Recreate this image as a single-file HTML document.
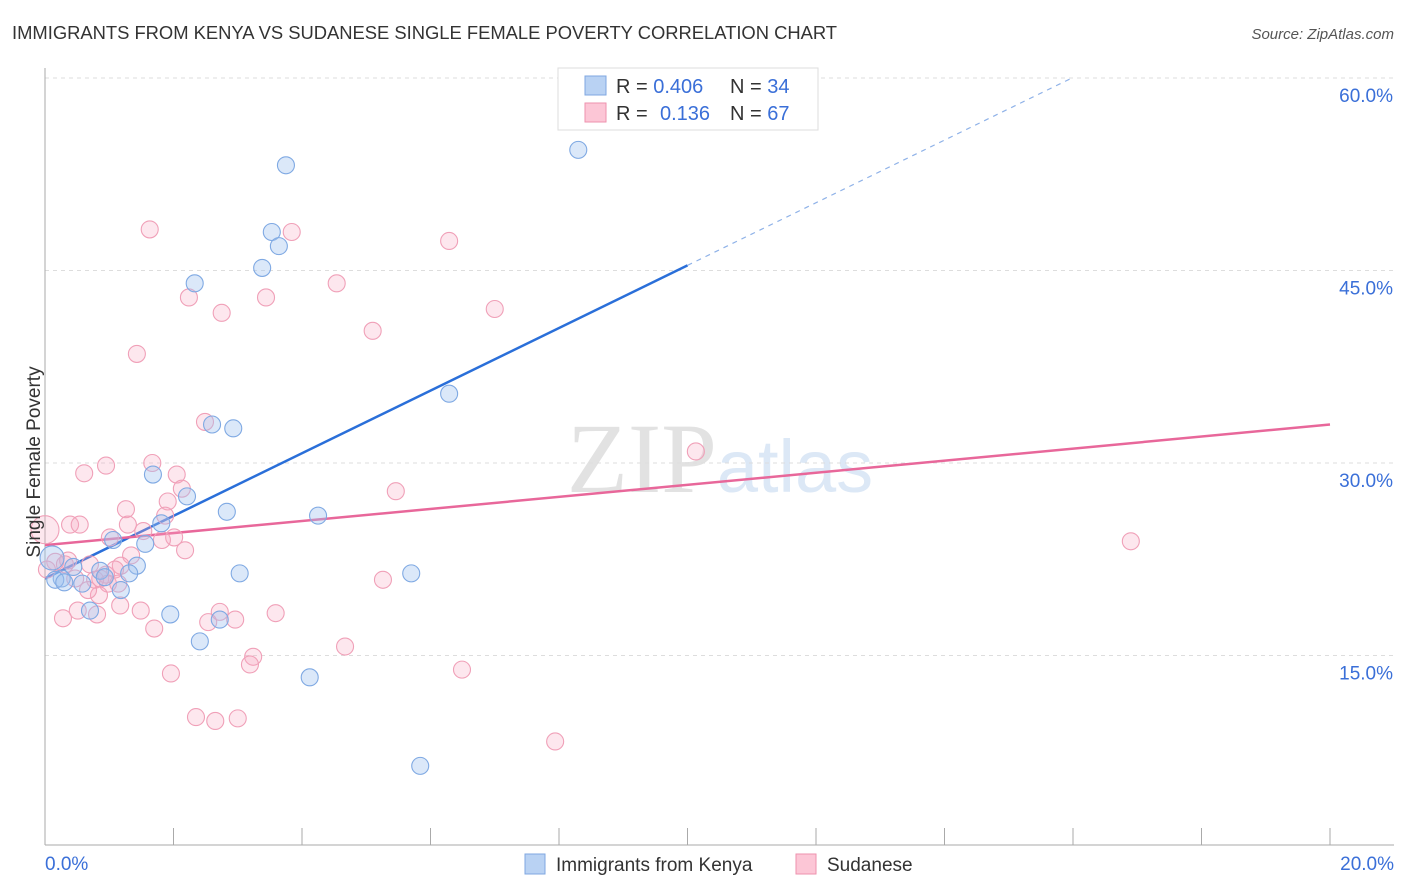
<!DOCTYPE html>
<html><head><meta charset="utf-8"><style>
body{margin:0;background:#fff;font-family:"Liberation Sans",sans-serif;}
svg{display:block}
</style></head><body>
<svg id="chart" width="1406" height="892" font-family="Liberation Sans, sans-serif">
<text x="12" y="39" font-size="18.4" fill="#333" textLength="825">IMMIGRANTS FROM KENYA VS SUDANESE SINGLE FEMALE POVERTY CORRELATION CHART</text>
<text x="1394" y="39" font-size="15" fill="#555" font-style="italic" text-anchor="end">Source: ZipAtlas.com</text>
<text x="720" y="492" font-size="100" fill="#e8e8e8" text-anchor="middle" font-family="Liberation Serif, serif"><tspan fill="#e2e2e2">ZIP</tspan><tspan fill="#dce8f6" font-family="Liberation Sans, sans-serif" font-size="74">atlas</tspan></text>
<g id="grid"></g>
<g id="axes"></g>
<g id="lines"></g>
<g id="pts"></g>
<text x="28" y="462" font-size="19" fill="#333" text-anchor="middle" transform="rotate(-90 34 456)">Single Female Poverty</text>
<g>
<rect x="558" y="68" width="260" height="62" fill="#fff" stroke="#ddd"/>
<rect x="585" y="76" width="21" height="19" fill="#b9d2f3" stroke="#7fa7e0"/>
<rect x="585" y="103" width="21" height="19" fill="#fcc6d6" stroke="#ee92ae"/>
<text x="616" y="93" font-size="20" fill="#333">R = <tspan fill="#3a6fd8">0.406</tspan><tspan x="730">N = </tspan><tspan fill="#3a6fd8">34</tspan></text>
<text x="616" y="120" font-size="20" fill="#333">R = <tspan x="660" fill="#3a6fd8">0.136</tspan><tspan x="730">N = </tspan><tspan fill="#3a6fd8">67</tspan></text>
</g>
<g>
<rect x="525" y="854" width="20" height="20" fill="#b9d2f3" stroke="#7fa7e0"/>
<text x="556" y="871" font-size="19" fill="#333">Immigrants from Kenya</text>
<rect x="796" y="854" width="20" height="20" fill="#fcc6d6" stroke="#ee92ae"/>
<text x="827" y="871" font-size="19" fill="#333">Sudanese</text>
</g>
</svg>
<script>
const yTicks=[15,30,45,60];
const yTickLabels=["15.0%","30.0%","45.0%","60.0%"];
const xTickLabels=["0.0%","20.0%"];
const kenyaX=[8.30,3.75,3.53,3.64,3.38,2.33,6.29,2.60,2.93,1.68,2.21,2.83,4.25,1.81,1.06,1.56,0.11,1.43,0.44,0.86,1.31,0.93,3.03,5.70,0.26,0.16,0.30,0.58,1.18,0.70,1.95,2.72,2.41,4.12,5.84];
const kenyaY=[54.4,53.2,48.0,46.9,45.2,44.0,35.4,33.0,32.7,29.1,27.4,26.2,25.9,25.3,24.0,23.7,22.6,22.0,21.9,21.6,21.4,21.1,21.4,21.4,21.0,20.9,20.7,20.6,20.1,18.5,18.2,17.8,16.1,13.3,6.4];
const sudanX=[1.63,3.84,6.29,4.54,2.24,3.44,2.75,7.00,5.10,1.43,2.49,1.67,0.95,0.61,2.05,2.13,10.13,5.46,1.91,1.26,0.39,0.54,1.29,1.87,1.53,2.01,1.82,16.90,0,1.01,2.18,0.16,0.36,0.70,1.34,1.18,1.09,0.86,0.78,0.95,0.98,0.84,1.17,1.49,0.51,0.81,0.28,2.72,3.59,1.70,2.54,2.96,4.67,3.24,3.19,1.96,6.49,5.26,2.35,2.65,3.00,7.94,0.31,0.03,0.47,1.14,0.67];
const sudanY=[48.2,48.0,47.3,44.0,42.9,42.9,41.7,42.0,40.3,38.5,33.2,30.0,29.8,29.2,29.1,28.0,30.9,27.8,27.0,26.4,25.2,25.2,25.2,25.9,24.7,24.2,24.0,23.9,24.8,24.2,23.2,22.3,22.4,22.1,22.8,22.0,21.7,21.0,20.9,21.3,20.6,19.7,18.9,18.5,18.5,18.2,17.9,18.4,18.3,17.1,17.6,17.8,15.7,14.9,14.3,13.6,13.9,20.9,10.2,9.9,10.1,8.3,22.1,21.7,21.0,20.6,20.1];
const kenyaLine=[0,21.0,10.0,45.4];
const sudanLine=[0,23.6,20,33.0];
const X=v=>45+v/20*1285;
const Y=v=>848-v/60*770;
const NS="http://www.w3.org/2000/svg";
function mk(tag,attrs,parent){const e=document.createElementNS(NS,tag);for(const k in attrs)e.setAttribute(k,attrs[k]);document.getElementById(parent).appendChild(e);return e;}
yTicks.forEach((t,i)=>{
 const g=mk('line',{x1:45,x2:1394,y1:Y(t),y2:Y(t),stroke:'#ddd','stroke-dasharray':'4,4'},'grid');
 
 
 const tx=mk('text',{x:1393,y:Y(t)+24,'font-size':19,fill:'#3a6fd8','text-anchor':'end'},'axes');
 tx.textContent=yTickLabels[i];
 
 
});
const ax=mk('line',{x1:45,x2:45,y1:68,y2:845,stroke:'#aaa'},'axes');


const bx=mk('line',{x1:45,x2:1394,y1:845,y2:845,stroke:'#aaa'},'axes');


for(let i=0;i<=10;i++){const t=mk('line',{x1:X(i*2),x2:X(i*2),y1:828,y2:845,stroke:'#aaa'},'axes');
 
 }
[[0,'start',45],[1,'end',1394]].forEach(([i,a,x])=>{const t=mk('text',{x:x,y:870,'font-size':19,fill:'#3a6fd8','text-anchor':a},'axes');t.textContent=xTickLabels[i];
 
 });
const ks=(kenyaLine[3]-kenyaLine[1])/(kenyaLine[2]-kenyaLine[0]);
const kl=mk('line',{x1:X(kenyaLine[0]),y1:Y(kenyaLine[1]),x2:X(kenyaLine[2]),y2:Y(kenyaLine[3]),stroke:'#2a6fd9','stroke-width':2.5},'lines');


const xEnd=kenyaLine[0]+(60-kenyaLine[1])/ks;
const kd=mk('line',{x1:X(kenyaLine[2]),y1:Y(kenyaLine[3]),x2:X(xEnd),y2:Y(60),stroke:'#8fb2e8','stroke-width':1.2,'stroke-dasharray':'5,5'},'lines');


const sl=mk('line',{x1:X(sudanLine[0]),y1:Y(sudanLine[1]),x2:X(sudanLine[2]),y2:Y(sudanLine[3]),stroke:'#e8679a','stroke-width':2.5},'lines');


sudanX.forEach((x,i)=>{const c=mk('circle',{cx:X(x),cy:Y(sudanY[i]),r:(x===0?14:8.5),fill:'rgba(248,170,195,0.28)',stroke:'#f0a0b8','stroke-width':1.1},'pts');
 
 });
kenyaX.forEach((x,i)=>{const c=mk('circle',{cx:X(x),cy:Y(kenyaY[i]),r:(i===16?12:8.5),fill:'rgba(160,195,240,0.38)',stroke:'#7fa9e3','stroke-width':1.1},'pts');
 
 });
</script>
</body></html>
